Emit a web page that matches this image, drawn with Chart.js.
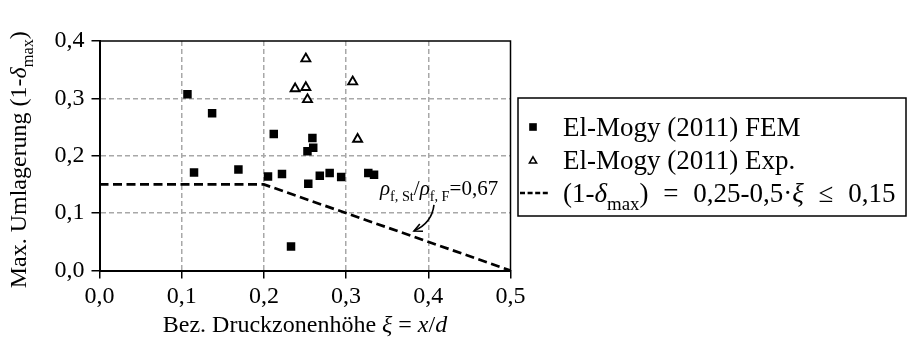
<!DOCTYPE html>
<html><head><meta charset="utf-8">
<script src="https://cdn.jsdelivr.net/npm/chart.js@4/dist/chart.umd.min.js"></script>
<style>html,body{margin:0;padding:0;background:#fff;overflow:hidden}#wrap{width:908px;height:343px;position:relative}canvas{display:block}</style>
</head><body><div id="wrap"><canvas id="c" width="908" height="343"></canvas></div>
<script>
// ---- data ----
const xTicks = [0, 0.1, 0.2, 0.3, 0.4, 0.5];
const yTicks = [0, 0.1, 0.2, 0.3, 0.4];
const femXi    = [0.107, 0.137, 0.115, 0.169, 0.205, 0.212, 0.222, 0.233, 0.253, 0.254, 0.259, 0.260, 0.268, 0.280, 0.294, 0.327, 0.334];
const femDelta = [0.307, 0.274, 0.171, 0.176, 0.164, 0.238, 0.168, 0.042, 0.208, 0.151, 0.231, 0.214, 0.165, 0.170, 0.163, 0.170, 0.167];
const expXi    = [0.238, 0.251, 0.251, 0.253, 0.308, 0.314];
const expDelta = [0.317, 0.319, 0.369, 0.298, 0.329, 0.229];
const limitXi    = [0, 0.2, 0.5];
const limitDelta = [0.15, 0.15, 0];
const seriesNames = ['El-Mogy (2011) FEM', 'El-Mogy (2011) Exp.', '(1-δmax) = 0,25-0,5·ξ ≤ 0,15'];
const annotationText = 'ρf,St/ρf,F=0,67';
const xTitle = 'Bez. Druckzonenhöhe ξ = x/d';
const yTitle = 'Max. Umlagerung (1-δmax)';

const FONT = 'Liberation Serif';
const toPts = (xs, ys) => xs.map((x, i) => ({x: x, y: ys[i]}));
const fmt = v => Number(v).toFixed(1).replace('.', ',');

function setFont(ctx, size, italic) {
  ctx.font = (italic ? 'italic ' : '') + size + 'px "' + FONT + '"';
}
function richWidth(ctx, segs, size) {
  let w = 0;
  segs.forEach(s => { const sz = s.sub ? size * s.sub : size; setFont(ctx, sz, s.it); w += ctx.measureText(s.t).width + (s.gap || 0); });
  return w;
}
function drawRich(ctx, x, y, segs, size) {
  ctx.textBaseline = 'alphabetic';
  ctx.textAlign = 'left';
  segs.forEach(s => {
    const sz = s.sub ? size * s.sub : size;
    setFont(ctx, sz, s.it);
    ctx.fillText(s.t, x, y + (s.sub ? size * 0.28 : 0));
    x += ctx.measureText(s.t).width + (s.gap || 0);
  });
}

const xTitleSegs = [{t: 'Bez. Druckzonenhöhe '}, {t: 'ξ', it: true}, {t: ' = '}, {t: 'x', it: true}, {t: '/'}, {t: 'd', it: true}];
const yTitleSegs = [{t: 'Max. Umlagerung (1-'}, {t: 'δ', it: true}, {t: 'max', sub: 0.68}, {t: ')'}];
const annSegs = [{t: 'ρ', it: true}, {t: 'f, St', sub: 0.68}, {t: '/'}, {t: 'ρ', it: true}, {t: 'f, F', sub: 0.68}, {t: '=0,67'}];
const legSegs = [
  [{t: seriesNames[0]}],
  [{t: seriesNames[1]}],
  [{t: '(1-'}, {t: 'δ', it: true}, {t: 'max', sub: 0.7}, {t: ') ', gap: 8}, {t: '=', gap: 8},
   {t: ' 0,25-0,5·'}, {t: 'ξ', it: true, gap: 8}, {t: ' ≤ ', gap: 8}, {t: '0,15'}]
];

const decor = {
  id: 'decor',
  beforeDatasetsDraw(chart) {
    const {ctx, chartArea: a} = chart;
    ctx.save();
    ctx.strokeStyle = '#000';
    ctx.lineWidth = 1.5;
    ctx.beginPath();
    ctx.moveTo(a.left, a.top); ctx.lineTo(a.right, a.top); ctx.lineTo(a.right, a.bottom);
    ctx.stroke();
    ctx.restore();
  },
  afterDraw(chart) {
    const {ctx, chartArea: a, scales} = chart;
    const sx = scales.x, sy = scales.y;
    ctx.save();
    ctx.fillStyle = '#000';
    ctx.strokeStyle = '#000';
    // x title
    let w = richWidth(ctx, xTitleSegs, 24);
    drawRich(ctx, (a.left + a.right) / 2 - w / 2, 332, xTitleSegs, 24);
    // y title
    ctx.save();
    ctx.translate(26, (a.top + a.bottom) / 2 + 4);
    ctx.rotate(-Math.PI / 2);
    w = richWidth(ctx, yTitleSegs, 24);
    drawRich(ctx, -w / 2, 0, yTitleSegs, 24);
    ctx.restore();
    // annotation
    const ax = sx.getPixelForValue(0.3412), ay = sy.getPixelForValue(0.1318);
    drawRich(ctx, ax, ay, annSegs, 21);
    const p0 = {x: sx.getPixelForValue(0.4069), y: sy.getPixelForValue(0.1143)};
    const p1 = {x: sx.getPixelForValue(0.3826), y: sy.getPixelForValue(0.0689)};
    ctx.lineWidth = 1.6;
    ctx.beginPath();
    ctx.moveTo(p0.x, p0.y);
    ctx.quadraticCurveTo(p0.x - 2, p1.y - 8, p1.x, p1.y);
    ctx.stroke();
    // arrow head
    const ang = Math.atan2(8, p1.x - (p0.x - 2));
    ctx.beginPath();
    ctx.moveTo(p1.x + Math.cos(ang + Math.PI - 0.45) * 9, p1.y + Math.sin(ang + Math.PI - 0.45) * 9);
    ctx.lineTo(p1.x, p1.y);
    ctx.lineTo(p1.x + Math.cos(ang + Math.PI + 0.45) * 9, p1.y + Math.sin(ang + Math.PI + 0.45) * 9);
    ctx.stroke();
    // legend
    const L = 518, T = 98, W = 388, H = 118;
    ctx.lineWidth = 1.5;
    ctx.strokeRect(L, T, W, H);
    const rows = [127, 160, 193];
    Chart.helpers.drawPoint(ctx, {pointStyle: 'rect', radius: 5.4, borderWidth: 0}, 533, rows[0]);
    ctx.fillStyle = '#fff';
    ctx.lineWidth = 1.5;
    Chart.helpers.drawPoint(ctx, {pointStyle: 'triangle', radius: 4.2, borderWidth: 1.5}, 533, rows[1] + 1);
    ctx.fillStyle = '#000';
    ctx.beginPath();
    ctx.setLineDash([5, 2.6]);
    ctx.lineWidth = 2.5;
    ctx.moveTo(520, rows[2]); ctx.lineTo(548, rows[2]);
    ctx.stroke();
    ctx.setLineDash([]);
    legSegs.forEach((s, i) => drawRich(ctx, 563, rows[i] + 9, s, 27));
    ctx.restore();
  }
};

const gridColor = (ctx, edges) => (ctx.tick && edges.includes(ctx.tick.value)) ? 'rgba(0,0,0,0)' : '#a8a8a8';

new Chart(document.getElementById('c'), {
  type: 'scatter',
  data: {
    datasets: [
      {label: seriesNames[0], data: toPts(femXi, femDelta), pointStyle: 'rect', pointRadius: 6, pointBackgroundColor: '#000', pointBorderWidth: 0, showLine: false},
      {label: seriesNames[1], data: toPts(expXi, expDelta), pointStyle: 'triangle', pointRadius: 5.2, pointBackgroundColor: '#fff', pointBorderColor: '#000', pointBorderWidth: 1.9, showLine: false},
      {label: seriesNames[2], data: toPts(limitXi, limitDelta), showLine: true, pointRadius: 0, borderColor: '#000', borderWidth: 2.7, borderDash: [9, 4.5], fill: false}
    ]
  },
  options: {
    responsive: false,
    devicePixelRatio: 1,
    animation: false,
    events: [],
    layout: {padding: {top: 41, right: 397.5, left: 0, bottom: 0}},
    plugins: {legend: {display: false}, tooltip: {enabled: false}},
    scales: {
      x: {
        type: 'linear', min: 0, max: 0.5,
        afterBuildTicks: s => { s.ticks = xTicks.map(v => ({value: v})); },
        afterFit: s => { s.height = 72.5; },
        ticks: {callback: fmt, color: '#000', font: {family: FONT, size: 24}, padding: 4, maxRotation: 0},
        grid: {color: c => gridColor(c, [0, 0.5]), lineWidth: 1.5, tickColor: '#000', tickLength: 8, tickWidth: 1.5, tickBorderDash: []},
        border: {color: '#000', width: 2, dash: [5, 3]}
      },
      y: {
        type: 'linear', min: 0, max: 0.4,
        afterBuildTicks: s => { s.ticks = yTicks.map(v => ({value: v})); },
        afterFit: s => { s.width = 99.5; },
        ticks: {callback: fmt, color: '#000', font: {family: FONT, size: 24}, padding: 7},
        grid: {color: c => gridColor(c, [0, 0.4]), lineWidth: 1.5, tickColor: '#000', tickLength: 8, tickWidth: 1.5, tickBorderDash: []},
        border: {color: '#000', width: 2, dash: [5, 3]}
      }
    }
  },
  plugins: [decor]
});
</script>
</body></html>
